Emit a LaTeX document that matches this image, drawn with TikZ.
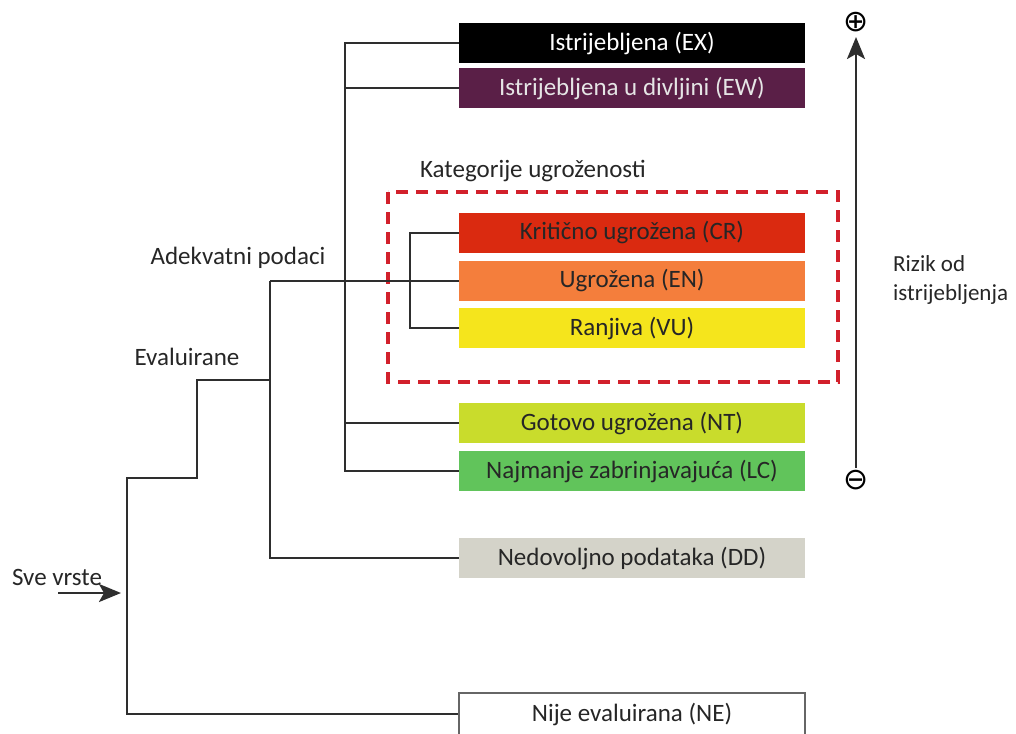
\documentclass[tikz,border=0pt]{standalone}
\usepackage{fontspec}
\setmainfont{Carlito}
\newfontfamily\symfont{DejaVu Sans}
\usetikzlibrary{shapes, arrows.meta, positioning}

\definecolor{exblack}{HTML}{000000}
\definecolor{ewpurple}{HTML}{5A1F47}
\definecolor{crred}{HTML}{DA2A10}
\definecolor{enorange}{HTML}{F47E3C}
\definecolor{vuyellow}{HTML}{F5E51C}
\definecolor{ntlime}{HTML}{C9DC2C}
\definecolor{lcgreen}{HTML}{61C45B}
\definecolor{ddgray}{HTML}{D4D3C9}
\definecolor{linegray}{HTML}{2E2E2E}
\definecolor{dashred}{HTML}{D2202B}

\begin{document}
\begin{tikzpicture}[x=1pt, y=-1pt, font=\fontsize{25}{30}\selectfont]
        % 定義樣式
        \tikzstyle{catbox} = [rectangle, minimum width=346pt, minimum height=40pt, inner sep=0pt, text centered, text=black!85]
        \tikzstyle{link} = [line width=2.6pt, draw=linegray]
        \tikzstyle{arrow} = [line width=2.6pt, draw=linegray, fill=linegray, -{Stealth[length=22pt, width=18pt, inset=5pt]}]
        \tikzstyle{label} = [inner sep=0pt, text=black!85]

        \useasboundingbox (0,0) rectangle (1016,733);

        % 類別方塊
        \node (EX) [catbox, fill=exblack, text=white] at (632,43) {Istrijebljena (EX)};
        \node (EW) [catbox, fill=ewpurple, text=white!90!black] at (632,88) {Istrijebljena u divljini (EW)};
        \node (CR) [catbox, fill=crred] at (632,233) {Kritično ugrožena (CR)};
        \node (EN) [catbox, fill=enorange] at (632,281) {Ugrožena (EN)};
        \node (VU) [catbox, fill=vuyellow] at (632,328) {Ranjiva (VU)};
        \node (NT) [catbox, fill=ntlime] at (632,423) {Gotovo ugrožena (NT)};
        \node (LC) [catbox, fill=lcgreen] at (632,471) {Najmanje zabrinjavajuća (LC)};
        \node (DD) [catbox, fill=ddgray] at (632,558) {Nedovoljno podataka (DD)};
        \node (NE) [catbox, draw=black!60, line width=1.6pt, minimum height=42pt] at (632,714) {Nije evaluirana (NE)};

        % 虛線框
        \draw [dashred, line width=4pt, dash pattern=on 12pt off 8pt] (388,192) rectangle (838,382);
        \node (katlbl) [label] at (533,171) {Kategorije ugroženosti};

        % 分支點
        \coordinate (adekv) at (345,281);
        \coordinate (threat) at (410,281);
        \coordinate (evalj) at (270,281);
        \coordinate (evalk) at (270,380);
        \coordinate (allv) at (197,478);
        \coordinate (sve) at (121,593);
        \coordinate (svein) at (58,593);
        \coordinate (riskbot) at (856,468);
        \coordinate (risktop) at (856,37);

        % 連接線
        \draw [link] (EX.west) -| (adekv) |- (LC.west);
        \draw [link] (EW.west) -- (EW.west -| adekv);
        \draw [link] (NT.west) -- (NT.west -| adekv);
        \draw [link] (CR.west) -| (threat) |- (VU.west);
        \draw [link] (evalj) -- (EN.west);
        \draw [link] (evalj) |- (DD.west);
        \draw [link] (evalk) -| (allv) -- (127,478) |- (NE.west);
        \draw [arrow] (svein) -- (sve);

        % 標籤
        \node (adeklbl) [label] at (238,258) {Adekvatni podaci};
        \node (evallbl) [label] at (187,357) {Evaluirane};
        \node (svelbl) [label] at (57,577) {Sve vrste};

        % 風險箭頭
        \node (plus) [inner sep=0pt, font=\symfont\fontsize{30}{30}\selectfont] at (856,22) {⊕};
        \node (minus) [inner sep=0pt, font=\symfont\fontsize{30}{30}\selectfont] at (856,480) {⊖};
        \draw [arrow] (riskbot) -- (risktop);
        \node (rizik) [label, align=left, anchor=west, font=\fontsize{23}{29}\selectfont] at (893,280) {Rizik od\\istrijebljenja};

    \end{tikzpicture}
\end{document}
